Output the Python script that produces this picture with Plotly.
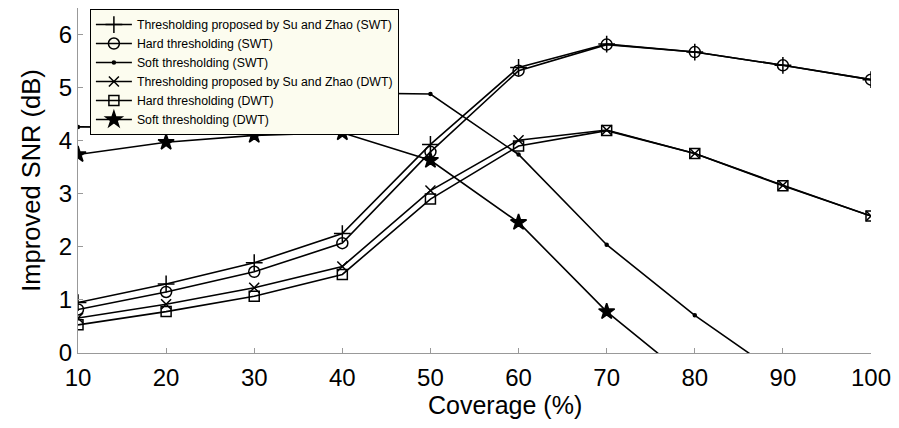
import plotly.graph_objects as go

coverage = [10, 20, 30, 40, 50, 60, 70, 80, 90, 100]
su_zhao_swt = [0.95, 1.30, 1.70, 2.25, 3.93, 5.38, 5.82, 5.67, 5.42, 5.15]
hard_swt = [0.82, 1.15, 1.53, 2.07, 3.79, 5.32, 5.81, 5.67, 5.42, 5.15]
soft_swt = [4.26, 4.25, 4.60, 4.90, 4.88, 3.74, 2.04, 0.71, -0.45, -1.6]
su_zhao_dwt = [0.66, 0.92, 1.23, 1.63, 3.06, 4.01, 4.20, 3.76, 3.16, 2.58]
hard_dwt = [0.53, 0.78, 1.07, 1.48, 2.90, 3.90, 4.19, 3.76, 3.15, 2.58]
soft_dwt = [3.74, 3.97, 4.10, 4.15, 3.63, 2.46, 0.78, -0.57, -2.0, -3.4]

names = [
    "Thresholding proposed by Su and Zhao (SWT)",
    "Hard thresholding (SWT)",
    "Soft thresholding (SWT)",
    "Thresholding proposed by Su and Zhao (DWT)",
    "Hard thresholding (DWT)",
    "Soft thresholding (DWT)",
]
series = [su_zhao_swt, hard_swt, soft_swt, su_zhao_dwt, hard_dwt, soft_dwt]
symbols = ["cross-thin", "circle-open", "circle", "x-thin", "square-open", "star"]
sizes = [12, 11, 3, 10, 10, 12]

fig = go.Figure()
for name, ys, sym, sz in zip(names, series, symbols, sizes):
    fig.add_trace(go.Scatter(
        x=coverage, y=ys, name=name, mode="lines+markers",
        line=dict(color="black", width=1.6),
        marker=dict(symbol=sym, size=sz, color="black",
                    line=dict(color="black", width=1.5)),
    ))

fig.update_layout(
    width=899, height=428,
    margin=dict(l=78, r=22, t=8, b=75),
    plot_bgcolor="white", paper_bgcolor="white",
    font=dict(family="Liberation Sans, Arial", color="black"),
    showlegend=True,
    legend=dict(
        x=0.015, y=0.997, xanchor="left", yanchor="top",
        bgcolor="#fcfcef", bordercolor="black", borderwidth=1,
        font=dict(family="Liberation Sans, Arial", size=12.3),
        tracegroupgap=0, itemwidth=36, entrywidth=326,
    ),
    xaxis=dict(
        range=[10, 100], tickvals=list(range(10, 101, 10)),
        showgrid=False, zeroline=False,
        showline=True, linecolor="#999999", linewidth=1,
        ticks="inside", ticklen=5, tickcolor="#999999",
        tickfont=dict(size=24), ticklabelstandoff=3,
    ),
    yaxis=dict(
        range=[0, 6.5], tickvals=[0, 1, 2, 3, 4, 5, 6],
        showgrid=False, zeroline=False,
        showline=True, linecolor="#999999", linewidth=1,
        ticks="inside", ticklen=5, tickcolor="#999999",
        tickfont=dict(size=24),
        title=dict(text="Improved SNR (dB)", font=dict(size=25.5), standoff=10),
    ),
    annotations=[dict(
        text="Coverage (%)", xref="paper", yref="paper",
        x=0.538, y=-0.152, xanchor="center", yanchor="middle",
        showarrow=False, font=dict(size=25),
    )],
)

fig.write_html("out.html")
